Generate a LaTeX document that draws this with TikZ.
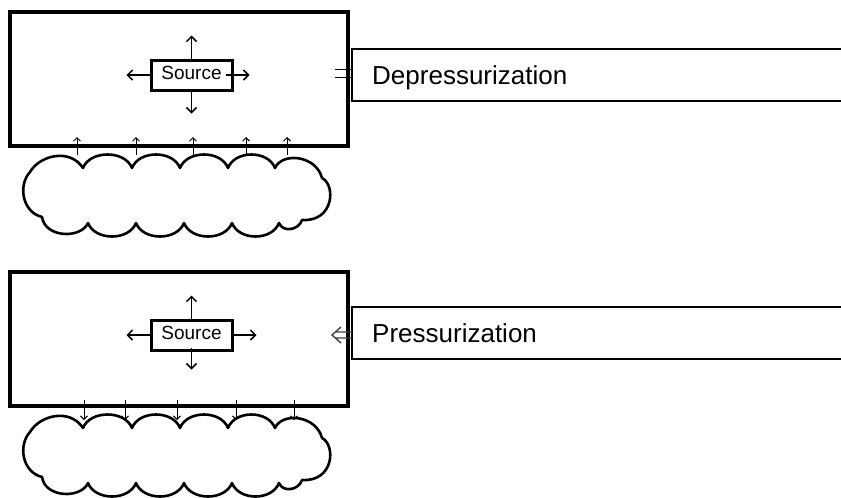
\documentclass[tikz,border=0pt]{standalone}
\usepackage{fontspec}
\setmainfont{Liberation Sans}
\usetikzlibrary{arrows.meta}
\tikzset{
  bigbox/.style={draw, line width=3.5pt, minimum width=338pt, minimum height=134pt, inner sep=0pt},
  srcbox/.style={draw, line width=3pt, minimum width=81pt, minimum height=30pt, inner sep=0pt,
    font=\fontsize{19}{22}\selectfont, text height=13.5pt, text depth=4.5pt},
  srcarrow/.style={line width=1.5pt, -{Straight Barb[length=5pt,width=10pt,line width=1.5pt]}},
  smallarrow/.style={line width=1pt, -{Straight Barb[length=3.5pt,width=7pt,line width=1pt]}},
  cloudline/.style={line width=2.6pt, line join=round},
  lblbox/.style={line width=2.4pt},
  lbl/.style={font=\fontsize{26}{31}\selectfont, inner sep=0pt, anchor=base west},
  sign/.style={line width=1.4pt}
}
\begin{document}
\begin{tikzpicture}[x=1pt,y=-1pt]
\clip (0,0) rectangle (841,498);
\fill[white] (0,0) rectangle (841,498);
% ---------- top panel ----------
\node[bigbox] (room1) at (179,79) {};
\node[srcbox] (src1) at (191.5,75) {Source};
\draw[srcarrow] (src1.north) -- ++(0,-23);
\draw[srcarrow] (src1.south) -- ++(0,22);
\draw[srcarrow] (src1.west) -- ++(-23,0);
\draw[srcarrow] ([xshift=-8pt]src1.east) -- ++(24,0);
\draw[lblbox] (850,49) -- (352,49) -- (352,101) -- (850,101);
\node[lbl] (dep) at (372,84) {Depressurization};
\draw[sign] (335,69.3) -- (352,69.3) (335,77.7) -- (352,77.7);
% ---------- bottom panel ----------
\node[bigbox] (room2) at (179,339) {};
\node[srcbox] (src2) at (191.5,335) {Source};
\draw[srcarrow] (src2.north) -- ++(0,-23);
\draw[srcarrow] ([yshift=4pt]src2.south) -- ++(0,22);
\draw[srcarrow] (src2.west) -- ++(-23,0);
\draw[srcarrow] (src2.east) -- ++(23,0);
\draw[lblbox] (850,307) -- (352,307) -- (352,359) -- (850,359);
\node[lbl] (pre) at (372,342) {Pressurization};
\draw[sign, black!75, line join=miter] (341,327) -- (332,335) -- (341,343)
  (335.4,332) -- (352,332) (335.4,338) -- (352,338);
% ---------- clouds ----------
\foreach \dy in {0,260}{
\begin{scope}[shift={(0,\dy)}]
\draw[cloudline] (42,217)
 .. controls (22,212) and (18,185) .. (30,172)
 .. controls (40,155) and (70,148) .. (83,168)
 .. controls (90,150) and (125,150) .. (132,168)
 .. controls (139,150) and (173,150) .. (180,168)
 .. controls (187,150) and (221,150) .. (228,168)
 .. controls (235,150) and (268,150) .. (275,168)
 .. controls (282,152) and (316,155) .. (322,178)
 .. controls (336,185) and (334,222) .. (302,220)
 .. controls (299,230) and (283,233) .. (279,223)
 .. controls (272,241) and (239,241) .. (232,223)
 .. controls (225,241) and (191,241) .. (184,223)
 .. controls (177,241) and (143,241) .. (136,223)
 .. controls (129,241) and (95,241) .. (88,223)
 .. controls (81,239) and (45,238) .. (42,217) -- cycle;
\end{scope}
}
% ---------- small flux arrows ----------
\foreach \x in {77,136,193,246,287}{
  \draw[smallarrow] (\x,155) -- (\x,137);
}
\foreach \x in {84,125,177,236,294}{
  \draw[smallarrow] (\x,400) -- (\x,420);
}
\end{tikzpicture}
\end{document}
